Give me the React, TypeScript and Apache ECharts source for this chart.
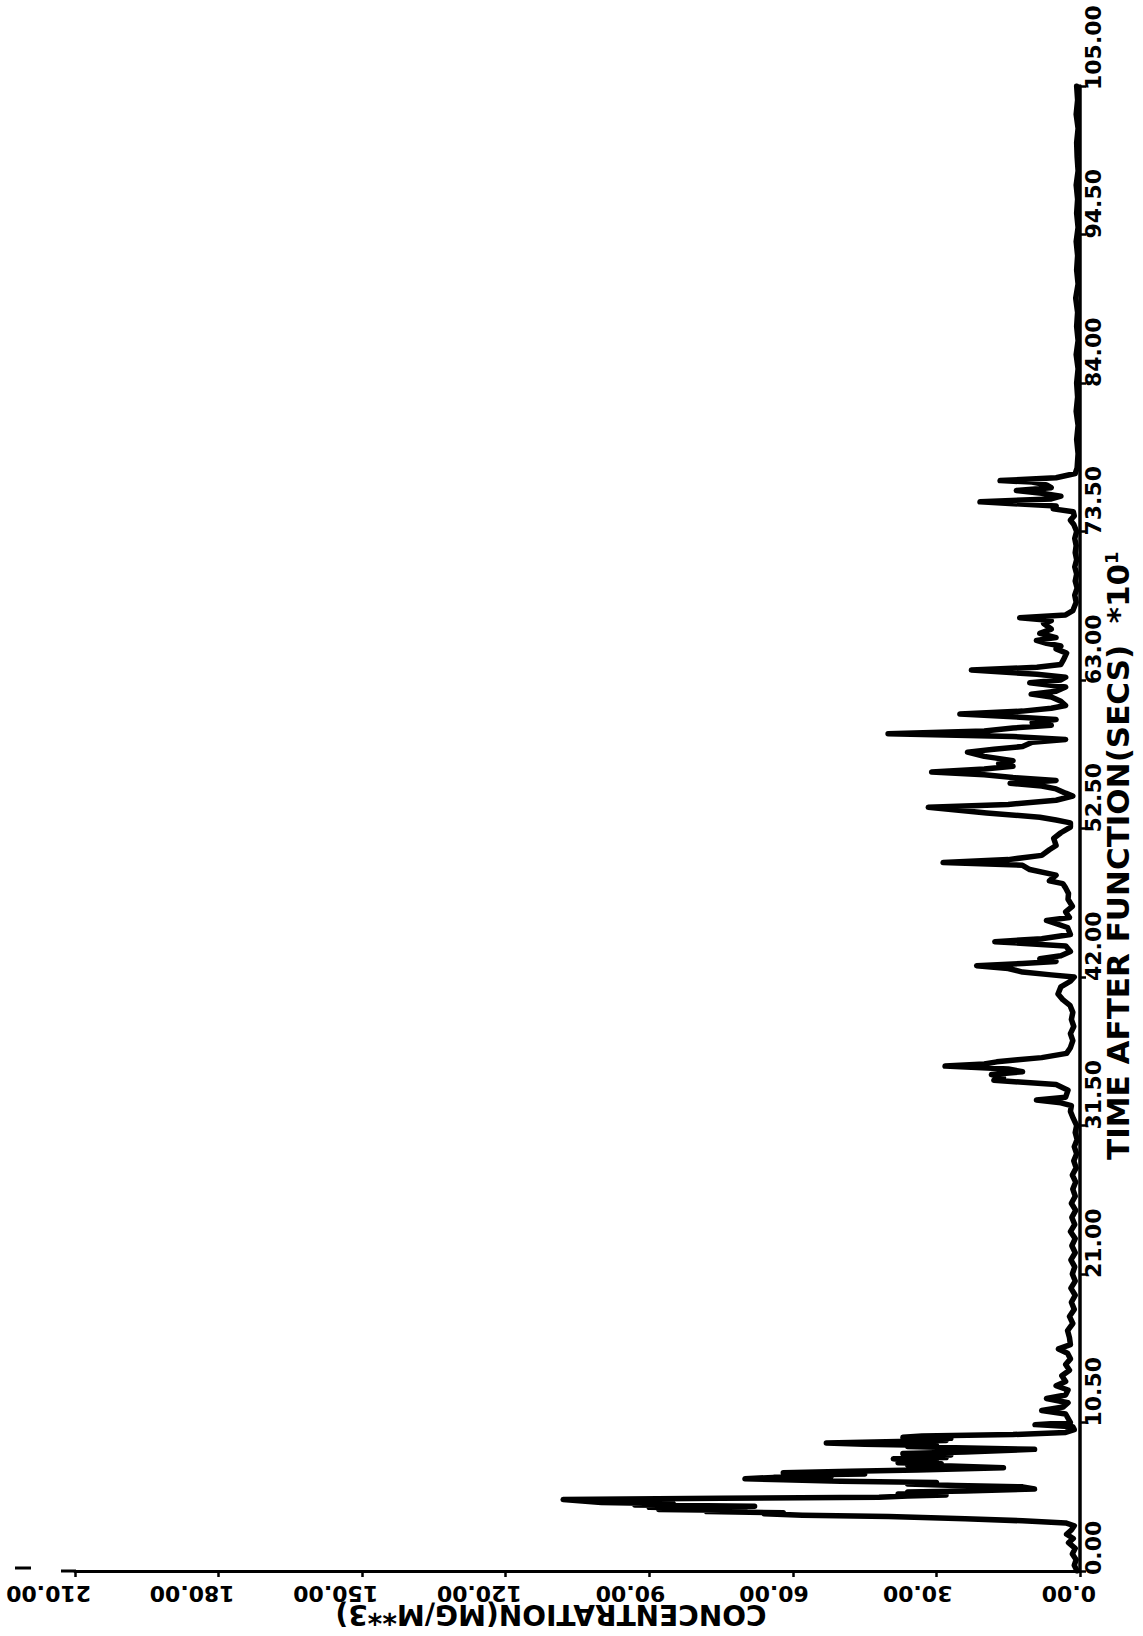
import React, { useEffect, useRef } from "react";
import * as echarts from "echarts";

// Axis tick values: time after function (x10 s) and concentration (mg/m**3)
const timeTicks = [0, 10.5, 21, 31.5, 42, 52.5, 63, 73.5, 84, 94.5, 105];
const concTicks = [0, 30, 60, 90, 120, 150, 180, 210];

// Trace: [concentration, time]
const startupBurst: [number, number][] = [
  [0.6, 0], [1.2, 0.4], [0.8, 0.8], [1.6, 1.2], [1.0, 1.6], [2.4, 2.0], [1.4, 2.3], [2.8, 2.6], [1.8, 2.9], [1.2, 3.2],
  [3, 3.4], [12, 3.55], [24, 3.7], [40, 3.85], [58, 3.95], [66, 4.05], [62, 4.12], [78, 4.2], [70, 4.28], [88, 4.35],
  [75, 4.42], [90, 4.5], [68, 4.58], [93, 4.66], [85, 4.75], [100, 4.85], [104, 4.95], [108, 5.05], [75, 5.15], [42, 5.22],
  [36, 5.3], [28, 5.37], [38, 5.44], [30, 5.51], [36, 5.58], [24, 5.65], [9.5, 5.8], [12, 5.95], [26, 6.05], [36, 6.15],
  [30, 6.25], [50, 6.35], [62, 6.45], [70, 6.53], [64, 6.62], [52, 6.7], [60, 6.78], [45, 6.86], [62, 6.95], [48, 7.05],
  [34, 7.15], [16, 7.3], [27, 7.42], [36, 7.5], [29, 7.58], [38, 7.66], [30, 7.74], [36, 7.82], [39, 7.93], [28, 8.02],
  [36, 8.1], [27, 8.2], [37, 8.3], [24, 8.42], [9.5, 8.6], [26, 8.72], [36, 8.8], [30, 8.88], [45, 8.97], [53, 9.05],
  [38, 9.15], [28, 9.23], [36, 9.3], [27, 9.38], [37, 9.46], [33, 9.55], [14, 9.65], [3, 9.8], [1.2, 10.0], [1.5, 10.2],
  [9.4, 10.35], [2, 10.5],
];
const quietPeriod: [number, number][] = [
  [2.5, 10.8], [3, 11.1], [8, 11.35], [3.5, 11.6], [2.5, 11.9], [7, 12.2], [3, 12.45], [2.5, 12.8], [5, 13.1], [3, 13.4],
  [3.8, 13.8], [2.2, 14.2], [3, 14.6], [2, 15.0], [2.6, 15.4], [4.5, 15.7], [2, 16.0], [2.2, 16.5], [2.6, 17.0], [1.5, 17.5],
  [2.2, 18.0], [1.2, 18.5], [1.8, 19.0], [1.0, 19.5], [1.9, 20.0], [1.0, 20.5], [1.6, 21.0], [1.1, 21.5], [1.9, 22.0], [1.0, 22.5],
  [1.7, 23.0], [1.0, 23.5], [2.0, 24.0], [1.1, 24.5], [1.7, 25.0], [0.9, 25.5], [1.8, 26.0], [1.0, 26.5], [1.5, 27.0], [0.9, 27.5],
  [1.6, 28.0], [0.8, 28.5], [1.3, 29.0], [0.7, 29.5], [1.2, 30.0], [0.6, 30.5], [1.0, 31.0], [0.7, 31.5],
];
const middleSpikes: [number, number][] = [
  [1.4, 32.0], [2.0, 32.5], [1.8, 32.9], [4, 33.1], [9.1, 33.3], [3, 33.5], [2.5, 34.0], [5, 34.4], [18, 34.7], [16, 34.9],
  [18.5, 35.1], [12, 35.3], [15, 35.5], [28.2, 35.7], [20, 35.85], [17.4, 36.0], [13, 36.15], [8, 36.3], [2.8, 36.6], [2, 37.0],
  [1.5, 37.5], [2.0, 38.0], [1.3, 38.5], [1.8, 39.0], [1.5, 39.5], [2.1, 40.0], [3.6, 40.4], [4.6, 40.8], [4, 41.3], [2, 41.7],
  [1.2, 42.0], [6, 42.15], [12, 42.35], [15, 42.6], [21.6, 42.8], [12, 42.95], [5, 43.1], [8.4, 43.3], [4, 43.5], [2, 43.8],
  [3, 44.2], [17.8, 44.5], [8, 44.7], [2, 45.0], [2.6, 45.5], [7, 46.0], [2.2, 46.2], [3, 46.6], [1.6, 47.0], [2.5, 47.5],
  [2.4, 47.9], [3, 48.3], [3.6, 48.6], [6.4, 48.8], [5, 49.2], [10.5, 49.6], [12, 49.9], [28.6, 50.1], [15, 50.3], [8, 50.6],
  [6.4, 51.0], [5, 51.3], [5.5, 51.8], [4, 52.2], [2, 52.6], [2, 52.9], [5, 53.1], [8.4, 53.3], [19.5, 53.6], [31.7, 54.0],
  [15, 54.2], [5, 54.5], [1.5, 54.8], [3, 55.0], [5, 55.3], [8, 55.5], [14.6, 55.7], [5, 55.9], [14, 56.1], [20, 56.3],
  [31, 56.5], [20, 56.7], [14, 56.9], [17, 57.1], [14, 57.3], [20, 57.6], [23.5, 57.9], [18, 58.1], [12, 58.3], [10, 58.6],
  [3, 58.8], [14, 59.0], [40.1, 59.2], [20, 59.4], [14, 59.6], [6, 59.8], [10, 60.0], [5, 60.2], [14, 60.4], [25.1, 60.6],
  [12, 60.8], [6, 61.0], [3, 61.2], [4, 61.5], [6, 61.8], [10.2, 62.0], [5, 62.2], [3, 62.5], [10.5, 62.8], [4, 63.0],
];
const lateSpikes: [number, number][] = [
  [3, 63.2], [9, 63.4], [22.7, 63.7], [9, 63.9], [4, 64.1], [3.5, 64.4], [2.8, 64.9], [5, 65.2], [4, 65.4], [7, 65.6],
  [9.1, 65.8], [5, 66.0], [8.4, 66.3], [6, 66.6], [7.6, 67.0], [6, 67.2], [12.6, 67.4], [3, 67.6], [1.5, 67.9], [0.8, 68.5],
  [1.1, 69.0], [0.6, 69.5], [1.0, 70.0], [0.7, 70.5], [1.1, 71.0], [0.7, 71.5], [1.0, 72.0], [0.8, 72.5], [1.1, 73.0], [0.7, 73.5],
  [1.3, 74.0], [2, 74.3], [1.2, 74.6], [1.4, 74.9], [5.6, 75.1], [5, 75.3], [20.9, 75.6], [6, 75.8], [4, 76.0], [8, 76.2],
  [13.3, 76.4], [6, 76.6], [7, 76.8], [10, 77.0], [16.7, 77.1], [5, 77.3], [1, 77.6], [0.6, 78.0],
];
const tailBaseline: [number, number][] = [
  [0.4, 79], [0.7, 80], [0.4, 81], [0.8, 82], [0.5, 83], [0.7, 84], [0.4, 85], [0.8, 86], [0.4, 87], [0.7, 88],
  [0.5, 89], [0.9, 90], [0.4, 91], [0.7, 92], [0.5, 93], [0.8, 94], [0.4, 95], [0.7, 96], [0.5, 97], [0.8, 98],
  [0.4, 99], [0.6, 100], [0.7, 101], [0.4, 102], [0.8, 103], [0.5, 104], [0.7, 105],
];

const timeTitle = "TIME AFTER FUNCTION(SECS)  *10";
const timeExponent = "1";
const concTitle = "CONCENTRATION(MG/M**3)";

const FONT = '"DejaVu Sans", sans-serif';

export default function App() {
  const ref = useRef<HTMLDivElement | null>(null);

  useEffect(() => {
    if (!ref.current) return;
    const chart = echarts.init(ref.current, undefined, { renderer: "svg" });
    const data = [...startupBurst, ...quietPeriod, ...middleSpikes, ...lateSpikes, ...tailBaseline];
    const option: any = {
      animation: false,
      backgroundColor: "#ffffff",
      grid: { left: 75, right: 63, top: 86, bottom: 65, containLabel: false },
      xAxis: {
        type: "value",
        inverse: true,
        position: "bottom",
        min: concTicks[0],
        max: concTicks[concTicks.length - 1],
        interval: concTicks[1] - concTicks[0],
        axisLine: { show: true, onZero: false, lineStyle: { color: "#000", width: 3 } },
        axisTick: { show: true, length: 6, lineStyle: { color: "#000", width: 2.5 } },
        splitLine: { show: false },
        axisLabel: {
          rotate: 180,
          align: "left",
          verticalAlign: "bottom",
          margin: 11,
          padding: [0, 0, 0, -16],
          showMinLabel: true,
          showMaxLabel: true,
          fontFamily: FONT,
          fontWeight: "bold",
          fontSize: 22,
          color: "#000",
          formatter: (v: number) => v.toFixed(2),
        },
      },
      yAxis: {
        type: "value",
        position: "right",
        min: timeTicks[0],
        max: timeTicks[timeTicks.length - 1],
        interval: timeTicks[1] - timeTicks[0],
        axisLine: { show: true, onZero: false, lineStyle: { color: "#000", width: 3.5 } },
        axisTick: { show: true, length: 6, lineStyle: { color: "#000", width: 2.5 } },
        splitLine: { show: false },
        axisLabel: {
          rotate: 90,
          align: "left",
          verticalAlign: "top",
          margin: 2,
          padding: [0, 0, 0, -4],
          showMinLabel: true,
          showMaxLabel: true,
          fontFamily: FONT,
          fontWeight: "bold",
          fontSize: 22,
          color: "#000",
          formatter: (v: number) => v.toFixed(2),
        },
      },
      graphic: [
        {
          type: "text",
          x: 1118,
          y: 1160,
          rotation: Math.PI / 2,
          style: {
            text: `{a|${timeTitle}}{b|${timeExponent}}`,
            rich: {
              a: { fontFamily: FONT, fontWeight: "bold", fontSize: 31, fill: "#000" },
              b: { fontFamily: FONT, fontWeight: "bold", fontSize: 18, fill: "#000", verticalAlign: "top" },
            },
            align: "left",
            verticalAlign: "middle",
            fill: "#000",
          },
        },
        {
          type: "text",
          x: 551,
          y: 1614,
          rotation: Math.PI,
          style: {
            text: concTitle,
            fontFamily: FONT,
            fontWeight: "bold",
            fontSize: 28,
            fill: "#000",
            align: "center",
            verticalAlign: "middle",
          },
        },
        {
          type: "line",
          shape: { x1: 61, y1: 1571, x2: 76, y2: 1571 },
          style: { stroke: "#000", lineWidth: 3 },
        },
        {
          type: "line",
          shape: { x1: 15, y1: 1568, x2: 31, y2: 1568 },
          style: { stroke: "#000", lineWidth: 3 },
        },
      ],
      series: [
        {
          type: "line",
          data,
          showSymbol: false,
          symbol: "none",
          lineStyle: { color: "#000", width: 5.5, join: "round", cap: "round" },
          clip: true,
        },
      ],
    };
    chart.setOption(option);
    return () => chart.dispose();
  }, []);

  return (
    <div
      ref={ref}
      style={{ position: "absolute", left: 0, top: 0, width: 1143, height: 1636, background: "#fff" }}
    />
  );
}
